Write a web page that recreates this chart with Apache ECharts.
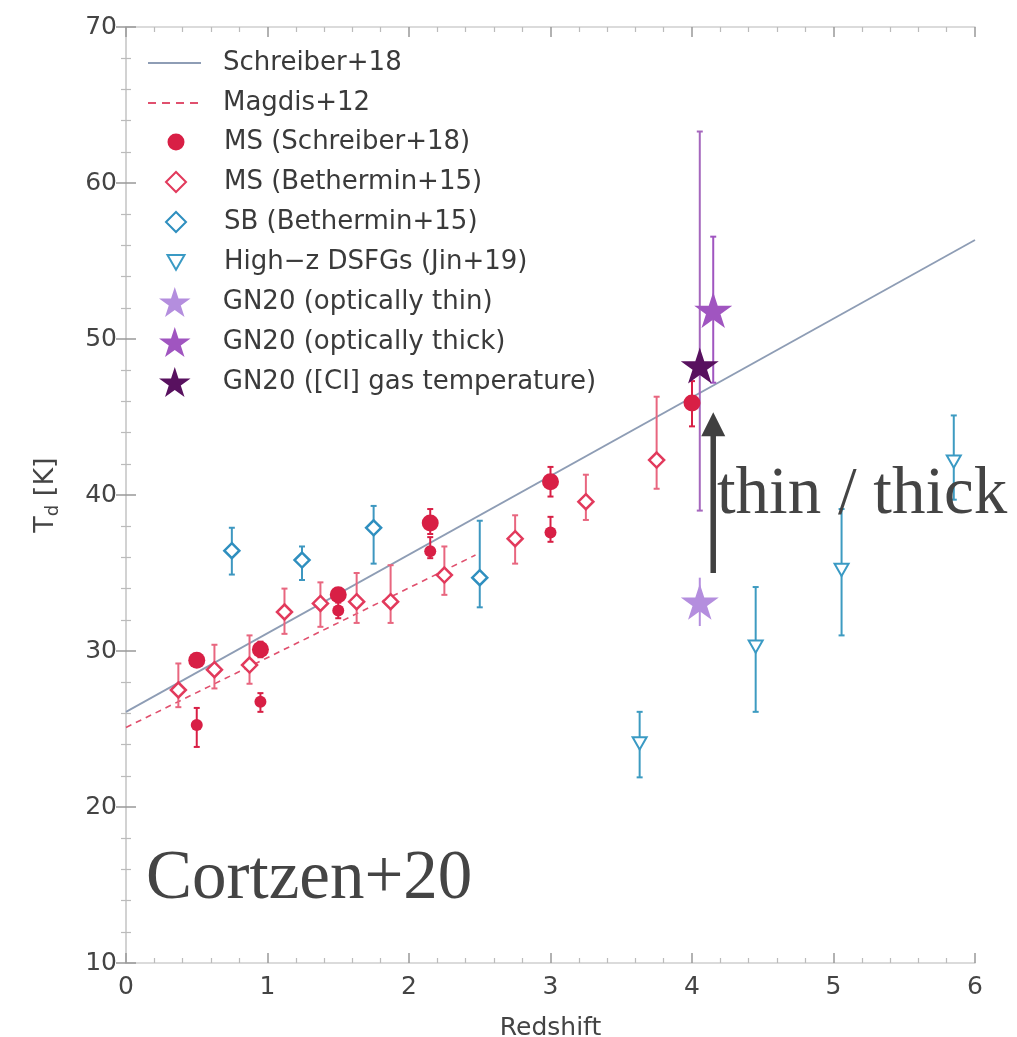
<!DOCTYPE html>
<html>
<head>
<meta charset="utf-8">
<script src="https://cdn.jsdelivr.net/npm/echarts@6/dist/echarts.min.js"></script>
<style>
html,body{margin:0;padding:0;background:#fff;overflow:hidden;}
#chart{width:1017px;height:1037px;}
</style>
</head>
<body>
<div id="chart"></div>
<script>
// ---------------- data ----------------
const schreiberZ = [0, 6];
const schreiberT = [26.1, 56.35];
const magdisZ = [0, 2.47];
const magdisT = [25.1, 36.15];

// MS (Schreiber+18) - large markers
const msSBigZ  = [0.5, 0.95, 1.5, 2.15, 3.0, 4.0];
const msSBigT  = [29.4, 30.1, 33.6, 38.2, 40.85, 45.9];
const msSBigLo = [29.0, 29.6, 33.1, 37.5, 39.9, 44.4];
const msSBigHi = [29.8, 30.6, 34.0, 39.1, 41.8, 47.3];
// MS (Schreiber+18) - small markers
const msSSmallZ  = [0.5, 0.95, 1.5, 2.15, 3.0];
const msSSmallT  = [25.26, 26.75, 32.6, 36.4, 37.6];
const msSSmallLo = [23.85, 26.1, 32.1, 35.95, 37.0];
const msSSmallHi = [26.35, 27.3, 33.3, 37.3, 38.6];

// MS (Bethermin+15)
const msBZ  = [0.37, 0.625, 0.873, 1.12, 1.374, 1.63, 1.87, 2.25, 2.75, 3.25, 3.75];
const msBT  = [27.5, 28.8, 29.1, 32.5, 33.05, 33.16, 33.16, 34.87, 37.2, 39.57, 42.24];
const msBLo = [26.4, 27.6, 27.9, 31.1, 31.55, 31.8, 31.8, 33.6, 35.6, 38.4, 40.4];
const msBHi = [29.2, 30.4, 31.0, 34.0, 34.4, 35.0, 35.5, 36.7, 38.7, 41.3, 46.3];

// SB (Bethermin+15)
const sbZ  = [0.748, 1.244, 1.75, 2.5];
const sbT  = [36.43, 35.83, 37.9, 34.7];
const sbLo = [34.9, 34.55, 35.6, 32.8];
const sbHi = [37.9, 36.7, 39.3, 38.35];

// High-z DSFGs (Jin+19)
const jinZ  = [3.63, 4.45, 5.057, 5.85];
const jinT  = [24.08, 30.28, 35.2, 42.14];
const jinLo = [21.9, 26.1, 31.0, 39.7];
const jinHi = [26.1, 34.1, 39.1, 45.1];

// GN20
const thinZ = [4.055], thinT = [33.16], thinLo = [31.6], thinHi = [34.7];
const thickZ = [4.15], thickT = [51.86], thickLo = [47.2], thickHi = [56.56];
const ciZ = [4.055], ciT = [48.3], ciLo = [39.0], ciHi = [63.3];

// annotation arrow (data coords)
const arrowZ = 4.15, arrowFromT = 35.0, arrowToT = 45.3;

// axis ticks
const xMin = 0, xMax = 6, xStep = 1;
const yMin = 10, yMax = 70, yStep = 10;

// ---------------- helpers ----------------
const pts = (z, t) => z.map((v, i) => [v, t[i]]);
const bars = (z, lo, hi) => z.map((v, i) => [v, lo[i], hi[i]]);

const STAR = 'path://M100,0 L122.45,69.1 L195.11,69.1 L136.33,111.8 L158.78,180.9 L100,138.2 L41.22,180.9 L63.67,111.8 L4.89,69.1 L77.55,69.1 Z';
const TRI_DOWN = 'path://M0,0 L100,0 L50,86.6 Z';
// legend icons (padded 20x20 boxes so that they share one itemHeight)
const L_CIRCLE = 'path://M0,0L0,0.01 M20,20L20,19.99 M1.5,10 A8.5,8.5 0 1 0 18.5,10 A8.5,8.5 0 1 0 1.5,10 Z';
const L_DIAMOND = 'path://M0,10 L10,0 L20,10 L10,20 Z';
const L_TRI = 'path://M0,0L0,0.01 M20,20L20,19.99 M1.5,3 L18.5,3 L10,17.7 Z';
// legend line icons: 86 wide box, visible line from 16 to 69
const ICON_SOLID = 'path://M0,0L0,2 M16,0h53v2h-53z M86,0L86,2';
const ICON_DASH = 'path://M0,0L0,2 M16,0h8v2h-8z M30,0h8v2h-8z M44,0h8v2h-8z M58,0h8v2h-8z M86,0L86,2';

function errSeries(name, z, lo, hi, color, width, cap) {
  return {
    name: name, type: 'custom', silent: true, z: 3,
    data: bars(z, lo, hi),
    encode: {x: 0, y: [1, 2]},
    renderItem: function (params, api) {
      const x = api.value(0), l = api.value(1), h = api.value(2);
      const a = api.coord([x, l]), b = api.coord([x, h]);
      const st = {stroke: color, lineWidth: width};
      return {type: 'group', children: [
        {type: 'line', shape: {x1: a[0], y1: a[1], x2: b[0], y2: b[1]}, style: st},
        {type: 'line', shape: {x1: a[0] - cap, y1: a[1], x2: a[0] + cap, y2: a[1]}, style: st},
        {type: 'line', shape: {x1: b[0] - cap, y1: b[1], x2: b[0] + cap, y2: b[1]}, style: st}
      ]};
    }
  };
}

const FONT = 'DejaVu Sans';
const C = {
  schreiber: '#8e9db5', magdis: '#e0506e',
  msS: '#d81f45', msB: '#e23a5c', msBerr: '#e8667f',
  sb: '#2f8fbf', sbErr: '#3d97c0',
  jin: '#3a9ac4', jinErr: '#3d9bc1',
  thin: '#b48ede', thick: '#a055c0', ci: '#58115f', ciErr: '#a567bd'
};

const chart = echarts.init(document.getElementById('chart'), null, {renderer: 'canvas'});

const axisCommon = {
  type: 'value',
  axisLine: {show: true, lineStyle: {color: '#cfcfcf', width: 1.5}},
  axisTick: {show: true, inside: true, length: 10, lineStyle: {color: '#999', width: 1.5}},
  minorTick: {show: true, splitNumber: 5, length: 5, lineStyle: {color: '#bbb', width: 1.2}},
  splitLine: {show: false},
  minorSplitLine: {show: false}
};

const legendText = {fontFamily: FONT, fontSize: 26, color: '#3a3a3a', lineHeight: 30};
const legendBase = {selectedMode: false, orient: 'vertical', padding: 0,
  itemWidth: 86, itemGap: 10, textStyle: legendText};

const option = {
  backgroundColor: '#fff',
  animation: false,
  grid: {left: 126, right: 42, top: 27, bottom: 74, containLabel: false, outerBoundsMode: 'none'},
  xAxis: [
    Object.assign({}, axisCommon, {
      min: xMin, max: xMax, interval: xStep, position: 'bottom',
      name: 'Redshift', nameLocation: 'middle', nameGap: 53,
      nameTextStyle: {fontFamily: FONT, fontSize: 25, color: '#444', verticalAlign: 'top'},
      axisLabel: {fontFamily: FONT, fontSize: 25, color: '#444', margin: 12}
    }),
    Object.assign({}, axisCommon, {
      min: xMin, max: xMax, interval: xStep, position: 'top', axisLabel: {show: false}
    })
  ],
  yAxis: [
    Object.assign({}, axisCommon, {
      min: yMin, max: yMax, interval: yStep, position: 'left',
      name: '{a|T}{s|d}{a| [K]}', nameLocation: 'middle', nameGap: 64, nameRotate: 90,
      nameTextStyle: {
        rich: {
          a: {fontFamily: FONT, fontSize: 27, color: '#444', lineHeight: 32, verticalAlign: 'middle'},
          s: {fontFamily: FONT, fontSize: 18, color: '#444', lineHeight: 32, verticalAlign: 'bottom'}
        }
      },
      axisLabel: {fontFamily: FONT, fontSize: 25, color: '#444', margin: 9}
    }),
    Object.assign({}, axisCommon, {
      min: yMin, max: yMax, interval: yStep, position: 'right', axisLabel: {show: false}
    })
  ],
  legend: [
    Object.assign({}, legendBase, {
      left: 132, top: 48, itemHeight: 2,
      data: [
        {name: 'Schreiber+18', icon: ICON_SOLID},
        {name: 'Magdis+12', icon: ICON_DASH}
      ]
    }),
    Object.assign({}, legendBase, {
      left: 165, top: 127, itemHeight: 20,
      data: [
        {name: 'MS (Schreiber+18)', icon: L_CIRCLE},
        {name: 'MS (Bethermin+15)', icon: L_DIAMOND},
        {name: 'SB (Bethermin+15)', icon: L_DIAMOND},
        {name: 'High\u2212z DSFGs (Jin+19)', icon: L_TRI}
      ]
    }),
    Object.assign({}, legendBase, {
      left: 159, top: 287, itemHeight: 30,
      data: [
        {name: 'GN20 (optically thin)', icon: STAR},
        {name: 'GN20 (optically thick)', icon: STAR},
        {name: 'GN20 ([CI] gas temperature)', icon: STAR}
      ]
    })
  ],
  series: [
    {name: 'Schreiber+18', type: 'line', symbol: 'none', z: 2,
     data: pts(schreiberZ, schreiberT),
     lineStyle: {color: C.schreiber, width: 1.8}, itemStyle: {color: C.schreiber}},
    {name: 'Magdis+12', type: 'line', symbol: 'none', z: 2,
     data: pts(magdisZ, magdisT),
     lineStyle: {color: C.magdis, width: 1.6, type: [6, 5]}, itemStyle: {color: C.magdis}},

    errSeries('err-msB', msBZ, msBLo, msBHi, C.msBerr, 2, 3),
    errSeries('err-sb', sbZ, sbLo, sbHi, C.sbErr, 2, 3),
    errSeries('err-jin', jinZ, jinLo, jinHi, C.jinErr, 2, 3),
    errSeries('err-msSBig', msSBigZ, msSBigLo, msSBigHi, C.msS, 2, 3),
    errSeries('err-msSSmall', msSSmallZ, msSSmallLo, msSSmallHi, C.msS, 2, 3),
    errSeries('err-thin', thinZ, thinLo, thinHi, C.thin, 2, 0),
    errSeries('err-ci', ciZ, ciLo, ciHi, C.ciErr, 2, 3),
    errSeries('err-thick', thickZ, thickLo, thickHi, C.thick, 2, 3),

    {name: 'MS (Schreiber+18)', type: 'scatter', symbol: 'circle', symbolSize: 17, z: 5,
     data: pts(msSBigZ, msSBigT), itemStyle: {color: C.msS, opacity: 1}},
    {name: 'MS (Schreiber+18)', type: 'scatter', symbol: 'circle', symbolSize: 12, z: 5,
     data: pts(msSSmallZ, msSSmallT), itemStyle: {color: C.msS, opacity: 1}},
    {name: 'MS (Bethermin+15)', type: 'scatter', symbol: 'diamond', symbolSize: 15, z: 5,
     data: pts(msBZ, msBT), itemStyle: {color: '#fff', borderColor: C.msB, borderWidth: 2.5, opacity: 1}},
    {name: 'SB (Bethermin+15)', type: 'scatter', symbol: 'diamond', symbolSize: 15, z: 5,
     data: pts(sbZ, sbT), itemStyle: {color: '#fff', borderColor: C.sb, borderWidth: 2.5, opacity: 1}},
    {name: 'High\u2212z DSFGs (Jin+19)', type: 'scatter', symbol: TRI_DOWN, symbolKeepAspect: true, symbolSize: 14, z: 5,
     data: pts(jinZ, jinT), itemStyle: {color: '#fff', borderColor: C.jin, borderWidth: 2, opacity: 1}},
    {name: 'GN20 (optically thin)', type: 'scatter', symbol: STAR, symbolKeepAspect: true, symbolSize: 38, z: 6,
     data: pts(thinZ, thinT), itemStyle: {color: C.thin, opacity: 1}},
    {name: 'GN20 (optically thick)', type: 'scatter', symbol: STAR, symbolKeepAspect: true, symbolSize: 38, z: 6,
     data: pts(thickZ, thickT), itemStyle: {color: C.thick, opacity: 1}},
    {name: 'GN20 ([CI] gas temperature)', type: 'scatter', symbol: STAR, symbolKeepAspect: true, symbolSize: 38, z: 6,
     data: pts(ciZ, ciT), itemStyle: {color: C.ci, opacity: 1}}
  ]
};

chart.setOption(option);

// annotations
const pFrom = chart.convertToPixel({xAxisIndex: 0, yAxisIndex: 0}, [arrowZ, arrowFromT]);
const pTo = chart.convertToPixel({xAxisIndex: 0, yAxisIndex: 0}, [arrowZ, arrowToT]);
const headLen = 24, headHalf = 12;
chart.setOption({
  graphic: [
    {type: 'line', z: 100,
     shape: {x1: pFrom[0], y1: pFrom[1], x2: pTo[0], y2: pTo[1] + headLen - 2},
     style: {stroke: '#404040', lineWidth: 5.5}},
    {type: 'polygon', z: 100,
     shape: {points: [[pTo[0], pTo[1]], [pTo[0] - headHalf, pTo[1] + headLen], [pTo[0] + headHalf, pTo[1] + headLen]]},
     style: {fill: '#404040'}},
    {type: 'text', z: 100, left: 717, top: 462,
     style: {text: 'thin / thick', font: '67px "Liberation Serif"', fill: '#444'}},
    {type: 'text', z: 100, left: 146, top: 845,
     style: {text: 'Cortzen+20', font: '69px "Liberation Serif"', fill: '#444'}}
  ]
});
</script>
</body>
</html>
